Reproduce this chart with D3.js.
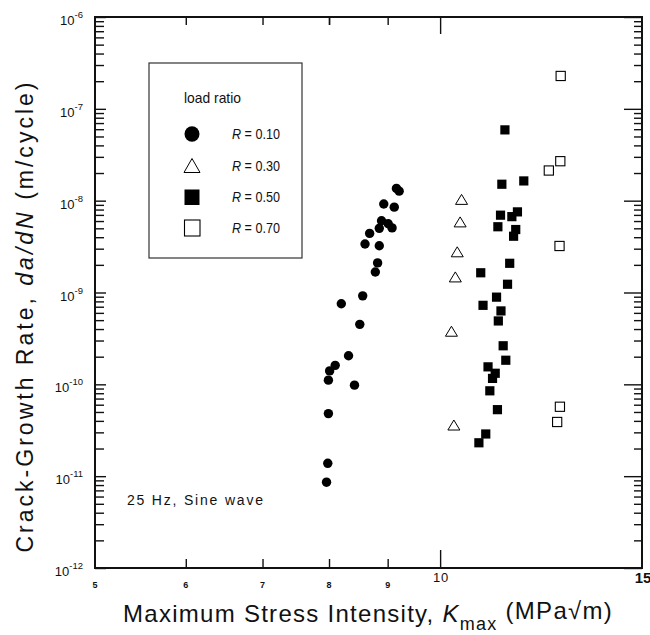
<!DOCTYPE html>
<html>
<head>
<meta charset="utf-8">
<script src="https://cdn.jsdelivr.net/npm/d3@7"></script>
<style>
  body { margin: 0; background: #fff; }
  text { font-family: "Liberation Sans", Arial, Helvetica, sans-serif; fill: #111; }
</style>
</head>
<body>
<svg id="chart" width="650" height="635"></svg>
<script>
// load ratio R = 0.10 (filled circles)
var r10K    = [9.16, 9.21, 8.93, 9.12, 8.89, 8.85, 9.01, 9.08, 8.68, 8.60, 8.85, 8.82, 8.78,
               8.56, 8.20, 8.51, 8.32, 8.10, 8.01, 7.99, 8.42, 7.99, 7.98, 7.96];
var r10Rate = [1.36e-8, 1.27e-8, 9.2e-9, 8.5e-9, 6.05e-9, 5.0e-9, 5.6e-9, 5.05e-9, 4.4e-9, 3.37e-9, 3.23e-9, 2.1e-9, 1.67e-9,
               9.2e-10, 7.55e-10, 4.5e-10, 2.05e-10, 1.61e-10, 1.4e-10, 1.11e-10, 9.8e-11, 4.8e-11, 1.38e-11, 8.6e-12];

// R = 0.30 (open triangles)
var r30K    = [10.44, 10.41, 10.35, 10.31, 10.23, 10.28];
var r30Rate = [1.02e-8, 5.8e-9, 2.74e-9, 1.46e-9, 3.74e-10, 3.56e-11];

// R = 0.50 (filled squares)
var r50K    = [11.39, 11.32, 11.83, 11.29, 11.55, 11.68, 11.23, 11.64, 11.59, 11.50, 10.85, 11.45, 11.20,
               10.90, 11.30, 11.24, 11.35, 11.41, 11.01, 11.17, 11.11, 11.05, 11.22, 10.96, 10.81];
var r50Rate = [5.9e-8, 1.51e-8, 1.64e-8, 6.95e-9, 6.7e-9, 7.55e-9, 5.2e-9, 4.85e-9, 4.1e-9, 2.08e-9, 1.64e-9, 1.23e-9, 8.9e-10,
               7.25e-10, 6.3e-10, 4.9e-10, 2.63e-10, 1.83e-10, 1.55e-10, 1.32e-10, 1.16e-10, 8.5e-11, 5.3e-11, 2.88e-11, 2.31e-11];

// R = 0.70 (open squares)
var r70K    = [12.74, 12.73, 12.44, 12.71, 12.72, 12.65];
var r70Rate = [2.28e-7, 2.69e-8, 2.13e-8, 3.21e-9, 5.7e-11, 3.89e-11];

var xMajor = [6, 7, 8, 9];
var xLabels = [5, 6, 7, 8, 9];
var yDecades = [-12, -11, -10, -9, -8, -7, -6];
var legendLabels = ["R = 0.10", "R = 0.30", "R = 0.50", "R = 0.70"];

var svg = d3.select("#chart");
var L = 95, R = 642, T = 17, B = 568;

var x = d3.scaleLog().domain([5, 15]).range([L, R]);
var y = d3.scaleLog().domain([1e-12, 1e-6]).range([B, T]);

var decadeVals = yDecades.map(function(e){ return Math.pow(10, e); });
var minorVals = [];
yDecades.slice(0, -1).forEach(function(e){
  for (var k = 2; k <= 9; k++) minorVals.push(k * Math.pow(10, e));
});

function addAxis(axis, tx, ty) {
  var g = svg.append("g").attr("transform", "translate(" + tx + "," + ty + ")").call(axis);
  g.select(".domain").remove();
  g.selectAll("line").attr("stroke", "#111").attr("stroke-width", 1.4);
  g.selectAll("text").remove();
  return g;
}

// ticks point inward on all four sides
addAxis(d3.axisBottom(x).tickValues(xMajor).tickSizeInner(-9).tickSizeOuter(0), 0, B);
addAxis(d3.axisBottom(x).tickValues([10]).tickSizeInner(-18).tickSizeOuter(0), 0, B);
addAxis(d3.axisTop(x).tickValues(xMajor.concat([8])).tickSizeInner(-8).tickSizeOuter(0), 0, T);
addAxis(d3.axisTop(x).tickValues([10]).tickSizeInner(-17).tickSizeOuter(0), 0, T);
addAxis(d3.axisLeft(y).tickValues(decadeVals).tickSizeInner(-11).tickSizeOuter(0), L, 0);
addAxis(d3.axisLeft(y).tickValues(minorVals).tickSizeInner(-9).tickSizeOuter(0), L, 0);
addAxis(d3.axisRight(y).tickValues(decadeVals).tickSizeInner(-18).tickSizeOuter(0), R, 0);
addAxis(d3.axisRight(y).tickValues(minorVals).tickSizeInner(-8).tickSizeOuter(0), R, 0);

svg.append("rect")
  .attr("x", L).attr("y", T).attr("width", R - L).attr("height", B - T)
  .attr("fill", "none").attr("stroke", "#111").attr("stroke-width", 2);

// x tick labels (small bold, then the odd-sized 10 and 15)
svg.selectAll(".xl").data(xLabels).enter().append("text")
  .attr("x", function(d){ return x(d); }).attr("y", 588)
  .attr("text-anchor", "middle").style("font-size", "9px").style("font-weight", "bold")
  .text(function(d){ return d; });
svg.append("text").attr("x", x(10) + 1).attr("y", 582).attr("text-anchor", "middle")
  .style("font-size", "13px").style("letter-spacing", "1px").text("10");
svg.append("text").attr("x", x(15) + 1).attr("y", 583).attr("text-anchor", "middle")
  .style("font-size", "15px").style("font-weight", "bold").text("15");

// y tick labels 10^n
var yl = svg.selectAll(".yl").data(yDecades).enter().append("text")
  .attr("x", 83).attr("y", function(d){ return y(Math.pow(10, d)) + 8; })
  .attr("text-anchor", "end");
yl.append("tspan").style("font-size", "13px").text("10");
yl.append("tspan").attr("dy", -7).style("font-size", "9.5px").text(function(d){ return String(d); });

// data marks
function pts(ks, rs) { return ks.map(function(k, i){ return [k, rs[i]]; }); }
var triPath = "M0,-5.5L6,4.5L-6,4.5Z";

svg.selectAll(".r10").data(pts(r10K, r10Rate)).enter().append("circle")
  .attr("cx", function(d){ return x(d[0]); }).attr("cy", function(d){ return y(d[1]); })
  .attr("r", 4.7).attr("fill", "#000");

svg.selectAll(".r30").data(pts(r30K, r30Rate)).enter().append("path")
  .attr("transform", function(d){ return "translate(" + x(d[0]) + "," + y(d[1]) + ")"; })
  .attr("d", triPath).attr("fill", "#fff").attr("stroke", "#000").attr("stroke-width", 1);

svg.selectAll(".r50").data(pts(r50K, r50Rate)).enter().append("rect")
  .attr("x", function(d){ return x(d[0]) - 4.6; }).attr("y", function(d){ return y(d[1]) - 4.6; })
  .attr("width", 9.2).attr("height", 9.2).attr("fill", "#000");

svg.selectAll(".r70").data(pts(r70K, r70Rate)).enter().append("rect")
  .attr("x", function(d){ return x(d[0]) - 4.6; }).attr("y", function(d){ return y(d[1]) - 4.6; })
  .attr("width", 9.2).attr("height", 9.2).attr("fill", "#fff").attr("stroke", "#000").attr("stroke-width", 1.1);

// legend
var lg = svg.append("g").attr("transform", "translate(149,63)");
lg.append("rect").attr("width", 153).attr("height", 195)
  .attr("fill", "#fff").attr("stroke", "#333").attr("stroke-width", 1.2);
lg.append("text").attr("x", 35).attr("y", 40).style("font-size", "15px")
  .attr("textLength", 57).attr("lengthAdjust", "spacingAndGlyphs").text("load ratio");
var rowY = [71, 103, 134, 165];
lg.append("ellipse").attr("cx", 43).attr("cy", rowY[0]).attr("rx", 7.5).attr("ry", 7.8).attr("fill", "#000");
lg.append("path").attr("transform", "translate(43," + rowY[1] + ")")
  .attr("d", "M0,-7.5L8,6.5L-8,6.5Z").attr("fill", "#fff").attr("stroke", "#000").attr("stroke-width", 1);
lg.append("rect").attr("x", 35.5).attr("y", rowY[2] - 7.5).attr("width", 15).attr("height", 15.5).attr("fill", "#000");
lg.append("rect").attr("x", 35.5).attr("y", rowY[3] - 8).attr("width", 15.5).attr("height", 16)
  .attr("fill", "#fff").attr("stroke", "#000").attr("stroke-width", 1.1);
var lt = lg.selectAll(".lt").data(legendLabels).enter().append("text")
  .attr("x", 83).attr("y", function(d, i){ return rowY[i] + 5; })
  .style("font-size", "14px").attr("textLength", 48).attr("lengthAdjust", "spacingAndGlyphs");
lt.append("tspan").style("font-style", "italic").text(function(d){ return d.slice(0, 1); });
lt.append("tspan").text(function(d){ return d.slice(1); });

// annotation
svg.append("text").attr("x", 127).attr("y", 505).style("font-size", "14px")
  .attr("textLength", 136).attr("lengthAdjust", "spacing").text("25 Hz, Sine wave");

// axis titles
var xt = svg.append("text").attr("x", 123).attr("y", 622).style("font-size", "24px");
xt.append("tspan").text("Maximum Stress Intensity, ");
xt.append("tspan").style("font-style", "italic").text("K");
xt.append("tspan").attr("dy", 8).style("font-size", "18px").text("max");
xt.append("tspan").attr("dy", -11).text(" (MPa\u221Am)");

var yt = svg.append("text").attr("transform", "translate(33,316) rotate(-90)")
  .attr("text-anchor", "middle").style("font-size", "23px");
yt.append("tspan").text("Crack-Growth Rate, ");
yt.append("tspan").style("font-style", "italic").text("da/dN");
yt.append("tspan").text(" (m/cycle)");

// stretch titles to the widths they have in the figure
function fitSpacing(sel, target) {
  var n = sel.text().length;
  var w = sel.node().getComputedTextLength();
  sel.style("letter-spacing", ((target - w) / n) + "px");
}
fitSpacing(xt, 490);
fitSpacing(yt, 473);
</script>
</body>
</html>
